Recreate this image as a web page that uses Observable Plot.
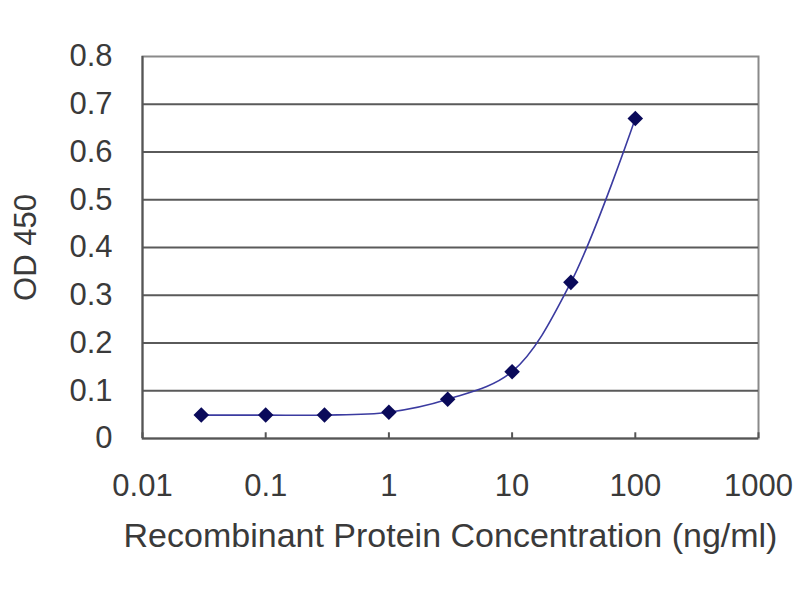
<!DOCTYPE html>
<html>
<head>
<meta charset="utf-8">
<script src="https://cdn.jsdelivr.net/npm/d3@7"></script>
<script src="https://cdn.jsdelivr.net/npm/@observablehq/plot@0.6"></script>
<style>
  html, body { margin: 0; padding: 0; background: #fff; }
  #chart svg { font-family: "Liberation Sans", Arial, sans-serif; }
</style>
</head>
<body>
<div id="chart"></div>
<script>
// Data
const concentration = [0.03, 0.1, 0.3, 1, 3, 10, 30, 100];
const od450 = [0.049, 0.049, 0.049, 0.055, 0.082, 0.140, 0.327, 0.670];
const xTicks = [0.01, 0.1, 1, 10, 100, 1000];
const yTicks = [0, 0.1, 0.2, 0.3, 0.4, 0.5, 0.6, 0.7, 0.8];
const xLabel = "Recombinant Protein Concentration (ng/ml)";
const yLabel = "OD 450";

const data = concentration.map((c, i) => ({x: c, y: od450[i]}));

const chart = Plot.plot({
  width: 800,
  height: 600,
  marginLeft: 142,
  marginRight: 42,
  marginTop: 56,
  marginBottom: 162,
  style: {background: "#fff", fontFamily: "Liberation Sans, Arial, sans-serif"},
  x: {type: "log", domain: [0.01, 1000]},
  y: {domain: [0, 0.8]},
  marks: [
    Plot.frame({stroke: "#8a8a8a", strokeWidth: 2}),
    Plot.ruleY(yTicks.filter(d => d > 0 && d < 0.8), {y: d => d, stroke: "#5a5a5a", strokeWidth: 2.2}),
    Plot.ruleX([0.01], {x: d => d, stroke: "#555", strokeWidth: 2}),
    Plot.ruleY([0], {y: d => d, stroke: "#555", strokeWidth: 2}),
    Plot.ruleX(xTicks, {x: d => d, y1: 0, y2: 0.012, stroke: "#555", strokeWidth: 2}),
    Plot.axisX({ticks: xTicks, tickFormat: d => String(d), tickSize: 0, tickPadding: 35, fontSize: 31, fill: "#3a3a3a", label: null}),
    Plot.axisY({ticks: yTicks, tickFormat: d => String(Math.round(d * 10) / 10), tickSize: 0, tickPadding: 30, fontSize: 31, fill: "#3a3a3a", label: null}),
    Plot.line(data, {x: "x", y: "y", curve: "catmull-rom", stroke: "#3b3ba0", strokeWidth: 1.6}),
    Plot.dot(data, {x: "x", y: "y", symbol: "diamond2", r: 7, fill: "#0a0a5a", stroke: "none"}),
    Plot.text([xLabel], {frameAnchor: "bottom", text: d => d, lineAnchor: "middle", textAnchor: "middle", dy: 98, fontSize: 34, fill: "#3a3a3a"}),
    Plot.text([yLabel], {frameAnchor: "left", text: d => d, lineAnchor: "middle", textAnchor: "middle", dx: -116, rotate: -90, fontSize: 31, fill: "#3a3a3a"})
  ]
});
document.getElementById("chart").appendChild(chart);
</script>
</body>
</html>
